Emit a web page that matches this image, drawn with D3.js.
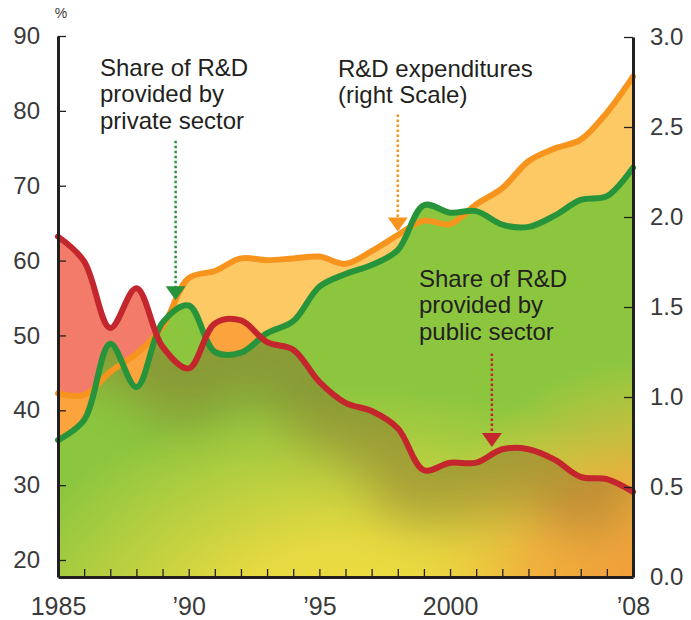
<!DOCTYPE html>
<html lang="en">
<head>
<meta charset="utf-8">
<title>Share of R&amp;D and R&amp;D expenditures</title>
<script src="https://d3js.org/d3.v7.min.js"></script>
<style>
    body {
        margin: 0;
        background: #fff;
        font-family: "Liberation Sans", Arial, Helvetica, sans-serif;
    }

    #grafico {
        display: block;
    }

    .eixo path {
        stroke: #231f20;
        stroke-width: 3;
        fill: none;
    }

    .eixo line {
        stroke: #231f20;
        stroke-width: 1.3;
    }

    .eixo text {
        font-family: "Liberation Sans", Arial, Helvetica, sans-serif;
        font-size: 24px;
        fill: #3a3a3a;
    }

    .nota {
        font-size: 24px;
        fill: #231f20;
    }
</style>
</head>
<body>
<svg id="grafico" width="691" height="620"></svg>
<script>
// years, one point per tick on the bottom axis
const anos = d3.range(1985, 2008);

// R&D expenditures (right scale)
const despesas = [1.02, 1.01, 1.14, 1.24, 1.39, 1.66, 1.70, 1.77, 1.76, 1.77, 1.78, 1.74,
                  1.81, 1.90, 1.98, 1.96, 2.07, 2.16, 2.31, 2.38, 2.43, 2.58, 2.78];

// share of R&D provided by private sector (%)
const privado = [36.0, 38.7, 48.9, 43.1, 51.7, 54.0, 47.8, 47.7, 50.3, 51.9, 56.5, 58.2,
                 59.4, 61.4, 67.4, 66.4, 66.6, 64.8, 64.5, 66.0, 68.1, 68.6, 72.4];

// share of R&D provided by public sector (%)
const publico = [63.2, 59.9, 51.0, 56.3, 48.5, 45.6, 51.6, 52.0, 49.1, 48.1, 43.8, 41.0,
                 39.9, 37.6, 32.0, 33.0, 33.0, 34.8, 34.8, 33.4, 31.1, 30.8, 29.1];

const ticksEsq = [20, 30, 40, 50, 60, 70, 80, 90];
const ticksDir = [0, 0.5, 1.0, 1.5, 2.0, 2.5, 3.0];
const rotulosAnos = [1985, 1990, 1995, 2000, 2007];
const rotulosTexto = ["1985", "\u201990", "\u201995", "2000", "\u201908"];

const svg = d3.select('#grafico');

const x = d3.scaleLinear().domain([1985, 2007]).range([58, 633]);
const yL = d3.scaleLinear().domain([17.73, 90]).range([577, 36]);
const yR = d3.scaleLinear().domain([0, 3]).range([577, 37]);

const curva = d3.curveCatmullRom.alpha(0.5);
const base = yL.range()[0];

const areaDir = d3.area().x((d, i) => x(anos[i])).y0(base).y1(d => yR(d)).curve(curva);
const areaEsq = d3.area().x((d, i) => x(anos[i])).y0(base).y1(d => yL(d)).curve(curva);
const linhaDir = d3.line().x((d, i) => x(anos[i])).y(d => yR(d)).curve(curva);
const linhaEsq = d3.line().x((d, i) => x(anos[i])).y(d => yL(d)).curve(curva);

const defs = svg.append('defs');
defs.append('clipPath').attr('id', 'clipPub').append('path').attr('d', areaEsq(publico));
defs.append('clipPath').attr('id', 'clipPriv').append('path').attr('d', areaEsq(privado));

// green -> yellow toward the bottom
const gradVerde = defs.append('radialGradient').attr('id', 'gradVerde')
    .attr('gradientUnits', 'userSpaceOnUse')
    .attr('cx', 370).attr('cy', 660).attr('r', 340)
    .attr('gradientTransform', 'translate(370,660) scale(1.45,1) translate(-370,-660)');
gradVerde.append('stop').attr('offset', 0).attr('stop-color', '#f7e03f');
gradVerde.append('stop').attr('offset', 0.35).attr('stop-color', '#e6d941');
gradVerde.append('stop').attr('offset', 0.8).attr('stop-color', '#8cc63f');

// orange glow bottom right
const gradLaranja = defs.append('radialGradient').attr('id', 'gradLaranja')
    .attr('gradientUnits', 'userSpaceOnUse')
    .attr('cx', 665).attr('cy', 615).attr('r', 260);
gradLaranja.append('stop').attr('offset', 0).attr('stop-color', '#f7933a').attr('stop-opacity', 1);
gradLaranja.append('stop').attr('offset', 0.55).attr('stop-color', '#f5ac3d').attr('stop-opacity', 0.85);
gradLaranja.append('stop').attr('offset', 1).attr('stop-color', '#f2c940').attr('stop-opacity', 0);

defs.append('filter').attr('id', 'borrao')
    .attr('x', '-20%').attr('y', '-80%').attr('width', '140%').attr('height', '260%')
    .append('feGaussianBlur').attr('stdDeviation', 24);

// fills
svg.append('path').attr('d', areaEsq(publico)).attr('fill', '#f37b6a');
svg.append('path').attr('d', areaDir(despesas)).attr('fill', '#fdc965');
svg.append('path').attr('d', areaDir(despesas)).attr('fill', '#fba33d')
    .attr('clip-path', 'url(#clipPub)');
svg.append('path').attr('d', areaEsq(privado)).attr('fill', 'url(#gradVerde)');
svg.append('rect').attr('x', 58).attr('y', 36).attr('width', 575).attr('height', 541)
    .attr('fill', 'url(#gradLaranja)').attr('clip-path', 'url(#clipPriv)');

// shade below the public sector line
svg.append('g').attr('clip-path', 'url(#clipPriv)')
    .append('g').attr('clip-path', 'url(#clipPub)')
    .append('path').attr('d', linhaEsq(publico))
    .attr('fill', 'none').attr('stroke', '#86602a').attr('stroke-width', 110)
    .attr('opacity', 0.42).attr('filter', 'url(#borrao)');

// lines
svg.append('path').attr('d', linhaDir(despesas)).attr('fill', 'none')
    .attr('stroke', '#f7941e').attr('stroke-width', 6).attr('stroke-linejoin', 'round').attr('stroke-linecap', 'round');
svg.append('path').attr('d', linhaEsq(privado)).attr('fill', 'none')
    .attr('stroke', '#27943b').attr('stroke-width', 6).attr('stroke-linejoin', 'round').attr('stroke-linecap', 'round');
svg.append('path').attr('d', linhaEsq(publico)).attr('fill', 'none')
    .attr('stroke', '#c4262e').attr('stroke-width', 6).attr('stroke-linejoin', 'round').attr('stroke-linecap', 'round');

// axes
svg.append('g').classed('eixo', true)
    .attr('transform', `translate(${x(1985)},0)`)
    .call(d3.axisLeft(yL).tickValues(ticksEsq).tickSize(-8).tickSizeOuter(0).tickPadding(18));

svg.append('g').classed('eixo', true)
    .attr('transform', `translate(${x(2007)},0)`)
    .call(d3.axisRight(yR).tickValues(ticksDir).tickFormat(d3.format('.1f'))
        .tickSize(-9).tickSizeOuter(0).tickPadding(17));

svg.append('g').classed('eixo', true)
    .attr('transform', `translate(0,${base})`)
    .call(d3.axisBottom(x).tickValues(anos).tickSize(-8).tickSizeOuter(0).tickPadding(20)
        .tickFormat(d => {
            const k = rotulosAnos.indexOf(d);
            return k < 0 ? '' : rotulosTexto[k];
        }))
    .selectAll('text').style('font-size', '25px');

svg.append('text').attr('x', 61).attr('y', 18).attr('text-anchor', 'middle')
    .style('font-size', '14px').style('fill', '#3a3a3a').text('%');

// arrows
const setas = [
    { ano: 1989.5, topo: 76.0, ponta: 54.7, escala: yL, cor: '#27943b' },
    { ano: 1998, topo: 2.57, ponta: 1.92, escala: yR, cor: '#f7941e' },
    { ano: 2001.6, topo: 47.6, ponta: 35.1, escala: yL, cor: '#c4262e' }
];
setas.forEach(s => {
    const sx = x(s.ano), y0 = s.escala(s.topo), y1 = s.escala(s.ponta);
    svg.append('line').attr('x1', sx).attr('x2', sx).attr('y1', y0).attr('y2', y1 - 12)
        .attr('stroke', s.cor).attr('stroke-width', 2.5).attr('stroke-dasharray', '2.5,2.5');
    svg.append('path').attr('d', `M${sx - 10},${y1 - 14}L${sx + 10},${y1 - 14}L${sx},${y1}Z`)
        .attr('fill', s.cor);
});

// notes
const notas = [
    { linhas: ['Share of R&D', 'provided by', 'private sector'], x: 100, y: 76 },
    { linhas: ['R&D expenditures', '(right Scale)'], x: 338, y: 77 },
    { linhas: ['Share of R&D', 'provided by', 'public sector'], x: 419, y: 287 }
];
notas.forEach(n => {
    svg.append('text').classed('nota', true)
        .selectAll('tspan').data(n.linhas).enter().append('tspan')
        .attr('x', n.x).attr('y', (d, i) => n.y + i * 26.3)
        .text(d => d);
});
</script>
</body>
</html>
